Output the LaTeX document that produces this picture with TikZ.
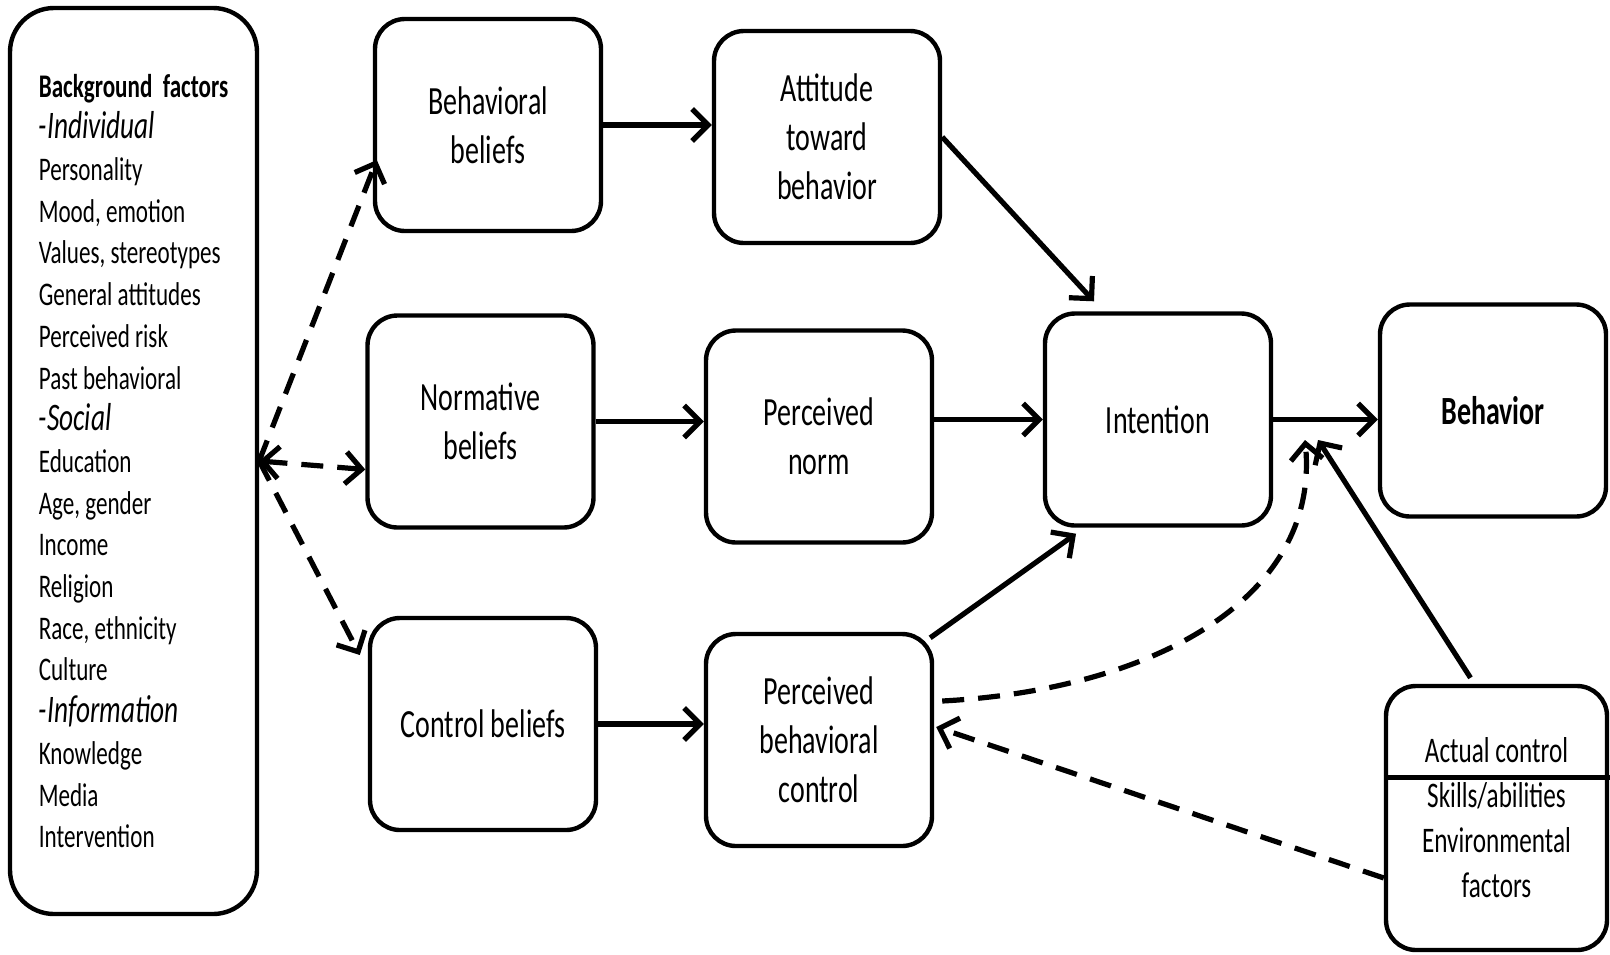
\documentclass[tikz,border=0pt]{standalone}
\usepackage{fontspec}
\setmainfont{Carlito}[FakeStretch=0.7]
\usetikzlibrary{arrows.meta}

\begin{document}
\begin{tikzpicture}[x=0.5pt,y=-0.5pt]
    \tikzstyle{rbox}=[draw,line width=2.2pt,rounded corners=15pt,minimum width=113pt,minimum height=106pt,inner sep=0pt,align=center,font=\fontsize{20}{24.5}\selectfont]
    \tikzstyle{bgbox}=[rbox,rounded corners=22pt,minimum width=123.5pt,minimum height=453pt,align=left,font=\fontsize{16.5}{20.85}\selectfont]
    \tikzstyle{arr}=[->,line width=2.6pt]
    \tikzstyle{darr}=[arr,dash pattern=on 11pt off 7pt]
    \tikzset{>={Straight Barb[length=8pt,width=16pt]}}
    \useasboundingbox (0,0) rectangle (1610,954);
    % boxes
    \node[bgbox] (bg) at (133.5,461) {\textbf{Background\ \ factors}\\
      {\fontsize{19.5}{20.85}\selectfont\itshape -Individual}\\ Personality\\ Mood, emotion\\
      Values, stereotypes\\ General attitudes\\ Perceived risk\\ Past behavioral\\
      {\fontsize{19.5}{20.85}\selectfont\itshape -Social}\\ Education\\ Age, gender\\ Income\\
      Religion\\ Race, ethnicity\\ Culture\\
      {\fontsize{19.5}{20.85}\selectfont\itshape -Information}\\ Knowledge\\ Media\\ Intervention};
    \node[rbox] (bb) at (488,125) {Behavioral\\beliefs};
    \node[rbox] (att) at (827,137) {Attitude\\toward\\behavior};
    \node[rbox] (nb) at (480.5,421.5) {Normative\\beliefs};
    \node[rbox] (pn) at (819,436.5) {Perceived\\norm};
    \node[rbox] (cb) at (483,724) {Control beliefs};
    \node[rbox] (pbc) at (819,740) {Perceived\\behavioral\\control};
    \node[rbox] (int) at (1158,419.5) {Intention};
    \node[rbox] (beh) at (1493,410.5) {\textbf{Behavior}};
    \node[rbox,minimum width=110.5pt,minimum height=132pt,font=\fontsize{18}{22.5}\selectfont] (act) at (1496.5,818)
      {Actual control\\Skills/abilities\\Environmental\\factors};
    \coordinate (divR) at (1610,777);
    \draw[line width=2.5pt] (act.west |- divR) -- (divR);
    % arrows
    \draw[darr] (bg.east) -- ([xshift=2pt,yshift=-17.5pt]bb.west);
    \draw[darr,<->] (bg.east) -- ([yshift=-24pt]nb.west);
    \draw[darr] (bg.east) -- ([xshift=-4pt,yshift=34.5pt]cb.west);
    \draw[arr] (bb.east) -- (bb.east -| att.west);
    \draw[arr] (nb.east) -- (nb.east -| pn.west);
    \draw[arr] (cb.east) -- (cb.east -| pbc.west);
    \draw[arr] (att.east) -- ([xshift=-32pt,yshift=5pt]int.north);
    \draw[arr] (int.west -| pn.east) -- (int.west);
    \draw[arr] ([xshift=-2pt,yshift=-3pt]pbc.north east) -- ([xshift=-41pt,yshift=-3pt]int.south);
    \draw[arr] (int.east) -- (int.east -| beh.west);
    \coordinate (tipA) at (1305,440);
    \coordinate (tipB) at (1318,440);
    \draw[darr] ([xshift=4pt,yshift=19.5pt]pbc.east) .. controls (1150,690) and (1320,600) .. (tipA);
    \draw[arr] ([xshift=-13pt,yshift=3pt]act.north) -- (tipB);
    \draw[darr] ([yshift=-30pt]act.west) -- ([xshift=1pt,yshift=6.5pt]pbc.east);
\end{tikzpicture}
\end{document}
